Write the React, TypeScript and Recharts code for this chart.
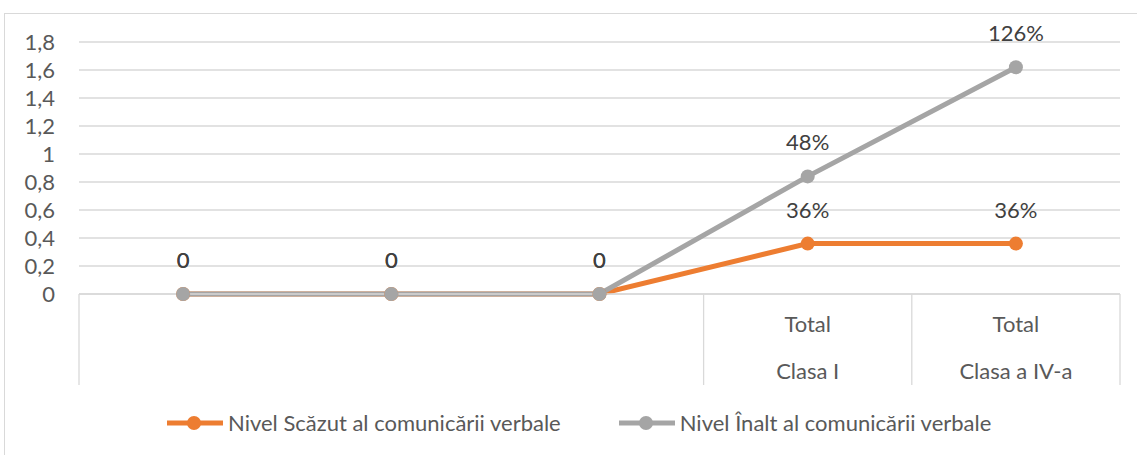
import React from "react";
import { LineChart, Line, XAxis, YAxis, CartesianGrid, Legend, LabelList } from "recharts";

const topLevel = ["", "", "", "Total", "Total"];
const bottomLevel = ["", "", "", "Clasa I", "Clasa a IV-a"];
const nivelScazut = [0, 0, 0, 0.36, 0.36];
const nivelInalt = [0, 0, 0, 0.48, 1.26];
const yTicks = [0, 0.2, 0.4, 0.6, 0.8, 1, 1.2, 1.4, 1.6, 1.8];

const ORANGE = "#ED7D31";
const GRAY = "#A5A5A5";
const TEXT = "#595959";
const FONT = "Lato, sans-serif";
const FS = 22;

// Excel stacked line: the second series sits on top of the first
const data = topLevel.map((_, i) => ({
  idx: i,
  scazut: nivelScazut[i],
  inalt: nivelScazut[i] + nivelInalt[i],
  inaltRaw: nivelInalt[i],
}));

const fmtPct = (v: number) => (v === 0 ? "0" : `${Math.round(v * 100)}%`);
const fmtTick = (v: number) => String(Math.round(v * 10) / 10).replace(".", ",");

function CategoryTick(props: any) {
  const { x, y, index, width, visibleTicksCount } = props;
  const band = width / visibleTicksCount;
  const left = x - band / 2;
  const right = x + band / 2;
  const showLeft = index === 0 || topLevel[index] !== "";
  const isLast = index === visibleTicksCount - 1;
  return (
    <g>
      {showLeft && <line x1={left} x2={left} y1={y} y2={y + 91} stroke="#d9d9d9" strokeWidth={1.3} />}
      {isLast && <line x1={right} x2={right} y1={y} y2={y + 91} stroke="#d9d9d9" strokeWidth={1.3} />}
      <text x={x} y={y + 38} textAnchor="middle" fill={TEXT} fontSize={FS} fontFamily={FONT}>
        {topLevel[index]}
      </text>
      <text x={x} y={y + 85} textAnchor="middle" fill={TEXT} fontSize={FS} fontFamily={FONT}>
        {bottomLevel[index]}
      </text>
    </g>
  );
}

function LegendContent() {
  const items = [
    { name: "Nivel Scăzut al comunicării verbale", color: ORANGE },
    { name: "Nivel Înalt al comunicării verbale", color: GRAY },
  ];
  return (
    <div style={{ display: "flex", gap: 58, marginLeft: 167, fontFamily: FONT, fontSize: FS, color: TEXT, lineHeight: "26px" }}>
      {items.map((it) => (
        <div key={it.name} style={{ display: "flex", alignItems: "center" }}>
          <svg width={56} height={16} style={{ marginRight: 5 }}>
            <line x1={0} x2={56} y1={8} y2={8} stroke={it.color} strokeWidth={5} strokeLinecap="round" />
            <circle cx={27} cy={8} r={7} fill={it.color} />
          </svg>
          <span>{it.name}</span>
        </div>
      ))}
    </div>
  );
}

export default function App() {
  return (
    <div style={{ position: "fixed", left: 0, top: 0, width: 1137, height: 455, background: "#fff", overflow: "hidden" }}>
      <div style={{ position: "absolute", left: 4, top: 13, width: 1150, height: 460, border: "1.3px solid #d9d9d9" }} />
      <LineChart width={1137} height={455} data={data} margin={{ top: 42, right: 17, bottom: 61, left: 0 }}>
        <CartesianGrid vertical={false} stroke="#d9d9d9" strokeWidth={1.3} />
        <XAxis
          dataKey="idx"
          scale="band"
          axisLine={{ stroke: "#d9d9d9", strokeWidth: 1.3 }}
          tickLine={false}
          tickSize={0}
          tickMargin={0}
          tick={<CategoryTick />}
          height={100}
          interval={0}
        />
        <YAxis
          domain={[0, 1.8]}
          ticks={yTicks}
          tickFormatter={fmtTick}
          axisLine={false}
          tickLine={false}
          width={79}
          tickMargin={18}
          interval={0}
          tick={{ fill: TEXT, fontSize: FS, fontFamily: FONT }}
        />
        <Legend
          verticalAlign="middle"
          layout="horizontal"
          wrapperStyle={{ top: 410, left: 0, width: 1137 }}
          content={<LegendContent />}
        />
        <Line
          dataKey="scazut"
          stroke={ORANGE}
          strokeWidth={5}
          dot={{ r: 7, fill: ORANGE, stroke: ORANGE, strokeWidth: 0 }}
          isAnimationActive={false}
        >
          <LabelList dataKey="scazut" position="top" offset={26} formatter={(v: any) => fmtPct(Number(v))} fill="#404040" fontSize={FS} fontFamily={FONT} />
        </Line>
        <Line
          dataKey="inalt"
          stroke={GRAY}
          strokeWidth={5}
          dot={{ r: 7, fill: GRAY, stroke: GRAY, strokeWidth: 0 }}
          isAnimationActive={false}
        >
          <LabelList dataKey="inaltRaw" position="top" offset={26} formatter={(v: any) => fmtPct(Number(v))} fill="#404040" fontSize={FS} fontFamily={FONT} />
        </Line>
      </LineChart>
    </div>
  );
}
